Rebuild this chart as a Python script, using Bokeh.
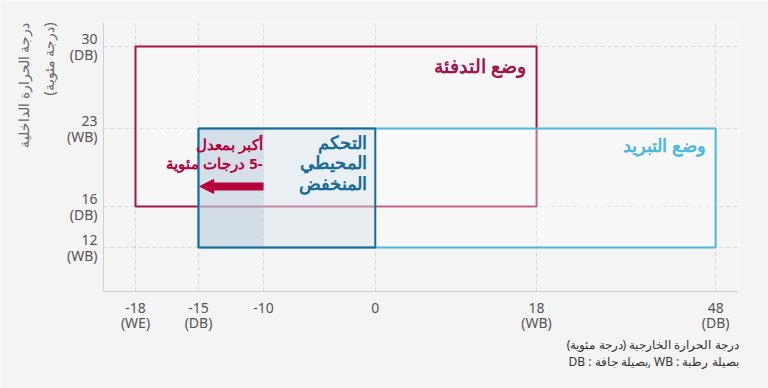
import numpy as np
from bokeh.plotting import figure
from bokeh.models import Range1d, FixedTicker, Label, Arrow, NormalHead, Title
from bokeh.embed import file_html
from bokeh.resources import INLINE

# ---------------- data ----------------
x_ticks = [-18, -15, -10, 0, 18, 48]
x_tick_labels = ["-18\n(WE)", "-15\n(DB)", "-10", "0", "18\n(WB)", "48\n(DB)"]
y_ticks = [12, 16, 23, 30]
y_tick_labels = ["12\n(WB)", "16\n(DB)", "23\n(WB)", "30\n(DB)"]

heating_x = [-18, 18]
heating_y = [16, 30]
cooling_x = [-15, 48]
cooling_y = [12, 23]
low_x = [-15, 0]
low_y = [12, 23]
extended_x = [-15, -10]
arrow_x = [-10, -15]
arrow_y = 17.8

RLE, LRE, PDF = "\u202B", "\u202A", "\u202C"
def rtl(s):
    return RLE + s + PDF

heating_label = rtl("وضع التدفئة")
cooling_label = rtl("وضع التبريد")
low_label = "\n".join(rtl(s) for s in ["التحكم", "المحيطي", "المنخفض"])
ext_label = rtl("أكبر بمعدل") + "\n" + rtl("-5 درجات مئوية")
y_title_1 = rtl("درجة الحرارة الداخلية")
y_title_2 = rtl("(درجة مئوية)")
x_title = rtl("درجة الحرارة الخارجية (درجة مئوية)")
note = LRE + "DB : بصيلة جافة, WB : بصيلة رطبة" + PDF

# non-linear axis layout: where each tick value sits (fraction of plot frame)
X_AXIS_POS = [0.0504, 0.1496, 0.252, 0.428, 0.682, 0.964]
Y_AXIS_POS = [0.164, 0.316, 0.606, 0.911]

def fx(v):
    return float(np.interp(v, x_ticks, X_AXIS_POS))

def fy(v):
    return float(np.interp(v, y_ticks, Y_AXIS_POS))

# ---------------- colours ----------------
BG = "#f4f4f4"
CRIMSON = "#a3154a"
RED = "#b8003c"
SKY = "#4cb7dc"
NAVY = "#1b6b99"
FONT = "Noto Sans"

p = figure(width=768, height=388, output_backend="svg", toolbar_location=None,
           x_range=Range1d(0, 1), y_range=Range1d(0, 1),
           min_border_left=103, min_border_right=30, min_border_top=22, min_border_bottom=97)
p.background_fill_color = BG
p.border_fill_color = BG
p.outline_line_color = None

xt = [round(fx(v), 4) for v in x_ticks]
yt = [round(fy(v), 4) for v in y_ticks]
p.xaxis.ticker = FixedTicker(ticks=xt)
p.yaxis.ticker = FixedTicker(ticks=yt)
p.xaxis.major_label_overrides = {t: l for t, l in zip(xt, x_tick_labels)}
p.yaxis.major_label_overrides = {t: l for t, l in zip(yt, y_tick_labels)}
for ax in (p.xaxis, p.yaxis):
    ax.axis_line_color = "#cfcfcf"
    ax.major_tick_line_color = None
    ax.minor_tick_line_color = None
    ax.major_tick_out = 0
    ax.major_label_text_font = FONT
    ax.major_label_text_font_size = "14px"
    ax.major_label_text_color = "#555555"
    ax.major_label_text_line_height = 0.82
p.xaxis.major_label_standoff = 6
p.yaxis.major_label_standoff = 6

for g in (p.xgrid, p.ygrid):
    g.grid_line_color = "#d4d4d4"
    g.grid_line_dash = "4 3"
    g.grid_line_width = 1
p.xgrid.ticker = FixedTicker(ticks=xt)
p.ygrid.ticker = FixedTicker(ticks=yt)

# heating mode
p.quad(left=fx(heating_x[0]), right=fx(heating_x[1]), bottom=fy(heating_y[0]), top=fy(heating_y[1]),
       fill_color="white", fill_alpha=0.3, line_color=CRIMSON, line_width=2)
# cooling mode
p.quad(left=fx(cooling_x[0]), right=fx(cooling_x[1]), bottom=fy(cooling_y[0]), top=fy(cooling_y[1]),
       fill_color="white", fill_alpha=0.35, line_color=SKY, line_width=2)
# extended area (-15 .. -10)
p.quad(left=fx(extended_x[0]), right=fx(extended_x[1]), bottom=fy(low_y[0]), top=fy(low_y[1]),
       fill_color="#7f9db2", fill_alpha=0.25, line_color=None)
# low ambient control
p.quad(left=fx(low_x[0]), right=fx(low_x[1]), bottom=fy(low_y[0]), top=fy(low_y[1]),
       fill_color="#c5d8e6", fill_alpha=0.3, line_color=NAVY, line_width=2)

# arrow
p.add_layout(Arrow(end=NormalHead(size=14, fill_color=RED, line_color=RED, line_width=1),
                   x_start=fx(arrow_x[0]), y_start=fy(arrow_y), x_end=fx(arrow_x[1]) + 0.002, y_end=fy(arrow_y),
                   line_color=RED, line_width=8))

# labels inside the plot
p.add_layout(Label(x=fx(heating_x[1]), y=fy(heating_y[1]), x_offset=-11, y_offset=-19,
                   text=heating_label, text_align="right", text_baseline="middle",
                   text_font=FONT, text_font_size="18.5px", text_font_style="bold", text_color=CRIMSON))
p.add_layout(Label(x=fx(cooling_x[1]), y=fy(cooling_y[1]), x_offset=-10, y_offset=-17,
                   text=cooling_label, text_align="right", text_baseline="middle",
                   text_font=FONT, text_font_size="18px", text_font_style="bold", text_color=SKY))
p.add_layout(Label(x=fx(low_x[1]), y=fy(low_y[1]), x_offset=-8, y_offset=-34,
                   text=low_label, text_align="right", text_baseline="middle", text_line_height=0.84,
                   text_font=FONT, text_font_size="18px", text_font_style="bold", text_color=NAVY))
p.add_layout(Label(x=fx(extended_x[1]), y=fy(low_y[1]), x_offset=-1, y_offset=-25,
                   text=ext_label, text_align="right", text_baseline="middle", text_line_height=0.92,
                   text_font=FONT, text_font_size="15px", text_font_style="bold", text_color=RED))

# axis titles (side panels)
p.add_layout(Title(text=y_title_2, align="right", text_font=FONT, text_font_size="14px",
                   text_font_style="normal", text_color="#666666", standoff=12), "left")
p.add_layout(Title(text=y_title_1, align="right", text_font=FONT, text_font_size="14px",
                   text_font_style="normal", text_color="#666666", standoff=-4), "left")
p.add_layout(Title(text=x_title, align="right", text_font=FONT, text_font_size="12px",
                   text_font_style="normal", text_color="#333333", standoff=-3), "below")
p.add_layout(Title(text=note, align="right", text_font=FONT, text_font_size="12px",
                   text_font_style="normal", text_color="#333333", standoff=-2), "below")

open("out.html", "w").write(file_html(p, INLINE))
